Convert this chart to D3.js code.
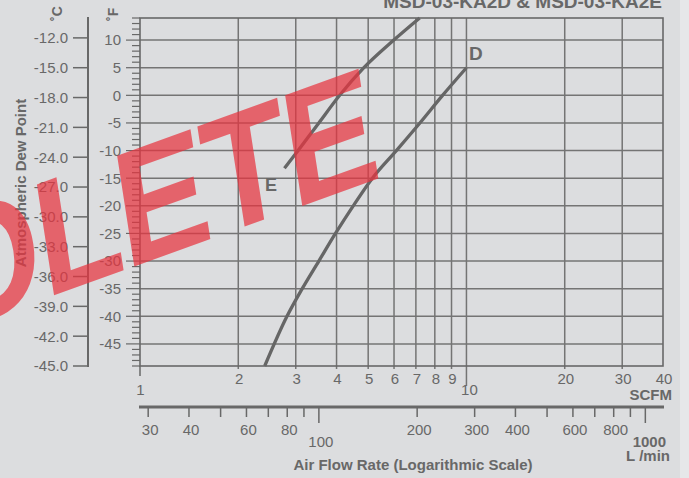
<!DOCTYPE html>
<html>
<head>
<meta charset="utf-8">
<script src="https://cdn.jsdelivr.net/npm/d3@7/dist/d3.min.js"></script>
<style>
  html, body { margin: 0; padding: 0; background: #dcdddf; }
  svg { display: block; }
  text { font-family: "Liberation Sans", Arial, Helvetica, sans-serif; fill: #686868; }
</style>
</head>
<body>
<svg id="chart" width="689" height="478"></svg>
<script>
// ---- data ----
const title = "MSD-03-KA2D & MSD-03-KA2E";
const fTicks = [10, 5, 0, -5, -10, -15, -20, -25, -30, -35, -40, -45];
const cTicks = [-12, -15, -18, -21, -24, -27, -30, -33, -36, -39, -42, -45];
const scfmGrid = [2, 3, 4, 5, 6, 7, 8, 9, 10, 20, 30];
const scfmLabels = [1, 2, 3, 4, 5, 6, 7, 8, 9, 10, 20, 30, 40];
const lpmTicks = [30, 40, 50, 60, 70, 80, 90, 100, 200, 300, 400, 500, 600, 700, 800, 900, 1000];
const lpmLabels = [30, 40, 60, 80, 100, 200, 300, 400, 600, 800];
const curveD_scfm = [2.41, 2.82, 3.14, 3.53, 3.97, 4.5, 5.15, 6.1, 7.2, 8.45, 10];
const curveD_f    = [-49, -40, -35, -30, -25, -20, -15, -10, -5, 0, 5];
const curveE_scfm = [2.77, 3.05, 3.53, 4.09, 4.85, 5.99, 7.19];
const curveE_f    = [-13.2, -10, -5, 0, 5, 10, 14];
const watermark = "OBSOLETE";

// ---- scales ----
const svg = d3.select("#chart");
const L = 140, R = 663, T = 18, B = 366;
const x = d3.scaleLog().domain([1, 40]).range([L, R]);
const yF = d3.scaleLinear().domain([-49, 14]).range([B, T]);
const yC = c => yF(c * 9 / 5 + 32);
const xL = l => x(l / 28.3168);
const grid = "#747474", ink = "#686868";

// background
svg.append("rect").attr("width", 689).attr("height", 478).attr("fill", "#e6e7e9");
svg.append("rect").attr("width", 680).attr("height", 478).attr("fill", "#dcdddf");

// title
svg.append("text").attr("x", 662).attr("y", 8).attr("text-anchor", "end")
  .style("font-size", "19px").style("font-weight", "bold").text(title);

// gridlines
svg.append("g").selectAll("line").data(fTicks).join("line")
  .attr("x1", L).attr("x2", R).attr("y1", d => yF(d)).attr("y2", d => yF(d))
  .attr("stroke", grid).attr("stroke-width", 1.5);
svg.append("g").selectAll("line").data(scfmGrid).join("line")
  .attr("x1", d => x(d)).attr("x2", d => x(d)).attr("y1", T).attr("y2", d => d === 10 ? B + 20 : B + 3)
  .attr("stroke", grid).attr("stroke-width", 1.5);
svg.append("line").attr("x1", x(1)).attr("x2", x(1)).attr("y1", B).attr("y2", B + 10)
  .attr("stroke", ink).attr("stroke-width", 1.5);

// plot border
svg.append("rect").attr("x", L).attr("y", T).attr("width", R - L).attr("height", B - T)
  .attr("fill", "none").attr("stroke", ink).attr("stroke-width", 1.6);

// F axis ticks
const fAll = d3.range(-49, 15);
svg.append("g").selectAll("line").data(fAll).join("line")
  .attr("x1", d => d % 5 === 0 ? 126 : 132).attr("x2", L)
  .attr("y1", d => yF(d)).attr("y2", d => yF(d))
  .attr("stroke", ink).attr("stroke-width", 1.2);
svg.append("g").selectAll("text").data(fTicks).join("text")
  .attr("x", 121).attr("y", d => yF(d)).attr("dy", "0.36em").attr("text-anchor", "end")
  .style("font-size", "15px").text(d => d);

// C axis
svg.append("line").attr("x1", 88).attr("x2", 88).attr("y1", 17).attr("y2", B + 1)
  .attr("stroke", ink).attr("stroke-width", 2);
svg.append("g").selectAll("line").data(cTicks).join("line")
  .attr("x1", 73).attr("x2", 88).attr("y1", d => yC(d)).attr("y2", d => yC(d))
  .attr("stroke", ink).attr("stroke-width", 1.5);
svg.append("g").selectAll("text").data(cTicks).join("text")
  .attr("x", 68).attr("y", d => yC(d)).attr("dy", "0.36em").attr("text-anchor", "end")
  .style("font-size", "15px").text(d => d.toFixed(1));

// unit labels
svg.append("text").attr("transform", "translate(62,21) rotate(-90)")
  .style("font-size", "14px").style("font-weight", "bold").text("˚C");
svg.append("text").attr("transform", "translate(118,21) rotate(-90)")
  .style("font-size", "14px").style("font-weight", "bold").text("˚F");
svg.append("text").attr("transform", "translate(26,183) rotate(-90)").attr("text-anchor", "middle")
  .style("font-size", "15px").style("font-weight", "bold").text("Atmospheric Dew Point");

// SCFM labels
svg.append("g").selectAll("text").data(scfmLabels).join("text")
  .attr("x", d => x(d) + (d === 10 ? 3 : d === 1 ? 0.5 : 1))
  .attr("y", d => (d === 1 || d === 10) ? 395 : 384)
  .attr("text-anchor", "middle").style("font-size", "15px").text(d => d);
svg.append("text").attr("x", 672).attr("y", 400).attr("text-anchor", "end")
  .style("font-size", "15px").style("font-weight", "bold").text("SCFM");

// L/min axis
svg.append("line").attr("x1", 139).attr("x2", 664).attr("y1", 407).attr("y2", 407)
  .attr("stroke", ink).attr("stroke-width", 3);
svg.append("g").selectAll("line").data(lpmTicks).join("line")
  .attr("x1", d => xL(d)).attr("x2", d => xL(d)).attr("y1", 407)
  .attr("y2", d => (d === 100 || d === 1000) ? 423 : 417)
  .attr("stroke", ink).attr("stroke-width", 1.5);
svg.append("g").selectAll("text").data(lpmLabels).join("text")
  .attr("x", d => xL(d) + 2).attr("y", d => d === 100 ? 446.5 : 434.5)
  .attr("text-anchor", "middle").style("font-size", "15px").text(d => d);
svg.append("text").attr("x", xL(1000) + 4).attr("y", 446.5).attr("text-anchor", "middle")
  .style("font-size", "15px").style("font-weight", "bold").text("1000");
svg.append("text").attr("x", 670).attr("y", 461).attr("text-anchor", "end")
  .style("font-size", "15px").style("font-weight", "bold").text("L /min");
svg.append("text").attr("x", 413).attr("y", 470).attr("text-anchor", "middle")
  .style("font-size", "15px").style("font-weight", "bold").text("Air Flow Rate (Logarithmic Scale)");

// curves
const line = d3.line().x(d => x(d[0])).y(d => yF(d[1])).curve(d3.curveMonotoneX);
const dPts = curveD_scfm.map((s, i) => [s, curveD_f[i]]);
const ePts = curveE_scfm.map((s, i) => [s, curveE_f[i]]);
[dPts, ePts].forEach(p => svg.append("path").attr("d", line(p))
  .attr("fill", "none").attr("stroke", "#666").attr("stroke-width", 3.3));
svg.append("text").attr("x", 469).attr("y", 60).style("font-size", "19px").style("font-weight", "bold").text("D");
svg.append("text").attr("x", 265).attr("y", 191).style("font-size", "18px").style("font-weight", "bold").text("E");

// watermark
const wm = svg.append("text")
  .attr("transform", "translate(45,298.6) rotate(-19.8) skewX(-11) scale(0.9,1)")
  .style("font-size", "160px").style("font-weight", "bold")
  .style("letter-spacing", "-3px")
  .style("fill", "#e8333f").style("fill-opacity", 0.72)
  .text(watermark);
const off = wm.node().getStartPositionOfChar(4).x;
wm.attr("x", -off);
</script>
</body>
</html>
